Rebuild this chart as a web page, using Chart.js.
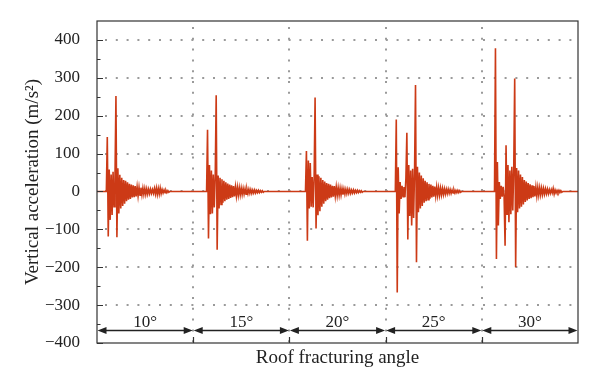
<!DOCTYPE html>
<html>
<head>
<meta charset="utf-8">
<script src="https://cdn.jsdelivr.net/npm/chart.js@4.4.1/dist/chart.umd.min.js"></script>
<style>
  html, body { margin: 0; padding: 0; background: #fff; }
  #wrap { width: 600px; height: 390px; }
</style>
</head>
<body>
<div id="wrap"><canvas id="accChart"></canvas></div>
<script>
// chart values

const segmentLabels = ["10°", "15°", "20°", "25°", "30°"];
const segmentBounds = [0, 10, 20, 30, 40, 50];
const yTicks = [-400, -300, -200, -100, 0, 100, 200, 300, 400];
const yMinorTicks = [-350, -250, -150, -50, 50, 150, 250, 350];

// where each burst begins inside its segment, and sample spacing
const burstStart = [1.07, 1.49, 1.77, 1.11, 1.42];
const sampleStep = 0.1;

// acceleration samples (m/s2) for each roof fracturing angle
const burst10 = [144, -119, 58, -75, 45, -62, 52, -40, 38, 252, -121, 61, -58, 44, -45, 36, -38, 30, -32, 28,
    -26, 24, -22, 20, -20, 18, -16, 16, -15, 14, -13, 12, -12, 11, -10, 10, -9, 9, -8, 8,
    -8, 7, -7, 6, -6, 6, -5, 5, -5, 8, -7, 9, -8, 8, -7, 9, -6, 5, -4, 4,
    -3, 3, -3, 2, -2];
const burst15 = [163, -124, 70, -60, 55, -58, 45, -42, 40, 254, -154, 42, -45, 36, -34, 32, -30, 28, -26, 24,
    -22, 21, -20, 18, -17, 16, -15, 14, -13, 12, -12, 11, -10, 10, -9, 9, -8, 8, -7, 7,
    -7, 6, -6, 6, -5, 5, -5, 4, -4, 4, -4, 3, -3, 3, -3, 2, -2, 2, -2];
const burst20 = [107, -130, 82, -45, 75, -40, 38, -42, 35, 248, -98, 45, -63, 40, -52, 36, -40, 30, -32, 26,
    -26, 22, -22, 20, -18, 18, -16, 15, -14, 14, -12, 12, -11, 10, -10, 9, -9, 8, -8, 7,
    -7, 6, -6, 6, -5, 5, -5, 4, -4, 4, -4, 3, -3, 3, -3, 2, -2, 2, -2];
const burst25 = [190, -267, 64, -58, 25, -20, 15, -14, 12, -15, 35, 155, -127, 70, -65, 55, -90, 60, -70, 50,
    281, -187, 65, -55, 50, -45, 42, -38, 35, -30, 28, -26, 24, -22, 20, -19, 18, -16, 15, -14,
    13, -12, 12, -11, 10, -10, 9, -9, 8, -8, 7, -7, 6, -6, 6, -5, 5, -5, 4, -4,
    4, -4, 3, -3, 3, -3, 2, -2];
const burst30 = [378, -178, 78, -90, 25, -20, 15, -14, 12, -15, -143, 122, -60, 70, -81, 55, -60, 65, -50, 60,
    298, -200, 62, -55, 55, -45, 45, -40, 38, -34, 30, -28, 26, -24, 22, -20, 19, -18, 16, -15,
    14, -13, 12, -12, 11, -10, 10, -9, 9, -8, 8, -7, 7, -6, 6, -6, 5, -5, 5, -4,
    8, -7, 4, -4, 3, -3, 3, -3, 2, -2];

const bursts = [burst10, burst15, burst20, burst25, burst30];

const serif = '"Liberation Serif", "Times New Roman", serif';
const ink = "#222";

function buildSignal() {
    const pts = [];
    bursts.forEach((vals, k) => {
        const x0 = segmentBounds[k];
        const t0 = x0 + burstStart[k];
        pts.push({ x: x0, y: 0 }, { x: t0 - sampleStep, y: 0 });
        vals.forEach((v, i) => pts.push({ x: t0 + i * sampleStep, y: v }));
        pts.push({ x: t0 + vals.length * sampleStep, y: 0 });
    });
    pts.push({ x: segmentBounds[segmentBounds.length - 1], y: 0 });
    return pts;
}

// dotted grid, frame, inward ticks and the angle arrows
const framePlugin = {
    id: "frame",
    beforeDatasetsDraw(chart) {
        const { ctx, chartArea: a, scales: { x, y } } = chart;
        ctx.save();
        ctx.strokeStyle = "#9a9a9a";
        ctx.lineWidth = 2;
        ctx.setLineDash([2, 8.8]);
        yTicks.forEach(v => {
            if (v === yTicks[0]) return;
            const py = Math.round(y.getPixelForValue(v));
            ctx.beginPath();
            ctx.moveTo(a.left + 8, py);
            ctx.lineTo(a.right, py);
            ctx.stroke();
        });
        segmentBounds.slice(1, -1).forEach(v => {
            const px = Math.round(x.getPixelForValue(v));
            ctx.beginPath();
            ctx.moveTo(px, a.top + 6);
            ctx.lineTo(px, a.bottom);
            ctx.stroke();
        });
        ctx.restore();
    },
    afterDatasetsDraw(chart) {
        const { ctx, chartArea: a, scales: { x, y } } = chart;
        ctx.save();
        ctx.strokeStyle = "#333";
        ctx.lineWidth = 1.2;
        ctx.strokeRect(a.left, a.top, a.right - a.left, a.bottom - a.top);

        // inward ticks on the left axis
        ctx.beginPath();
        yTicks.forEach(v => {
            const py = Math.round(y.getPixelForValue(v)) + 0.5;
            ctx.moveTo(a.left, py);
            ctx.lineTo(a.left + 6, py);
        });
        yMinorTicks.forEach(v => {
            const py = Math.round(y.getPixelForValue(v)) + 0.5;
            ctx.moveTo(a.left, py);
            ctx.lineTo(a.left + 3.5, py);
        });
        // ticks on the bottom at the segment edges
        segmentBounds.slice(1, -1).forEach(v => {
            const px = Math.round(x.getPixelForValue(v)) + 0.5;
            ctx.moveTo(px, a.bottom);
            ctx.lineTo(px, a.bottom - 6);
        });
        ctx.stroke();

        // double arrows with the angle labels
        const ay = Math.round(y.getPixelForValue(-365)) + 0.5;
        ctx.fillStyle = ink;
        ctx.strokeStyle = ink;
        ctx.lineWidth = 1.5;
        ctx.font = "17px " + serif;
        ctx.textAlign = "center";
        ctx.textBaseline = "alphabetic";
        segmentLabels.forEach((lab, k) => {
            const xa = x.getPixelForValue(segmentBounds[k]);
            const xb = x.getPixelForValue(segmentBounds[k + 1]);
            ctx.beginPath();
            ctx.moveTo(xa + 4, ay);
            ctx.lineTo(xb - 4, ay);
            ctx.stroke();
            ctx.beginPath();
            ctx.moveTo(xa + 0.5, ay);
            ctx.lineTo(xa + 9.5, ay - 3.5);
            ctx.lineTo(xa + 9.5, ay + 3.5);
            ctx.closePath();
            ctx.moveTo(xb - 0.5, ay);
            ctx.lineTo(xb - 9.5, ay - 3.5);
            ctx.lineTo(xb - 9.5, ay + 3.5);
            ctx.closePath();
            ctx.fill();
            ctx.fillText(lab, (xa + xb) / 2, ay - 4);
        });
        ctx.restore();
    }
};

const ctx = document.getElementById("accChart").getContext("2d");
new Chart(ctx, {
    type: "line",
    data: {
        datasets: [{
            data: buildSignal(),
            borderColor: "#cc3a16",
            borderWidth: 1.6,
            borderJoinStyle: "miter",
            pointRadius: 0,
            tension: 0,
            fill: false
        }]
    },
    options: {
        responsive: true,
        maintainAspectRatio: false,
        animation: false,
        events: [],
        layout: { padding: { left: 22, right: 22, top: 21, bottom: 21 } },
        plugins: { legend: { display: false }, tooltip: { enabled: false } },
        scales: {
            x: {
                type: "linear",
                min: 0,
                max: 50,
                grid: { display: false },
                border: { display: false },
                ticks: { display: false },
                title: {
                    display: true,
                    text: "Roof fracturing angle",
                    color: ink,
                    font: { family: serif, size: 19 },
                    padding: { top: 0, bottom: 0 }
                },
                afterFit(scale) { scale.height = 26; }
            },
            y: {
                min: -400,
                max: 450,
                grid: { display: false },
                border: { display: false },
                afterBuildTicks(scale) { scale.ticks = yTicks.map(v => ({ value: v })); },
                ticks: {
                    padding: 9,
                    color: ink,
                    font: { family: serif, size: 17 },
                    callback: v => (v < 0 ? "\u2212" + Math.abs(v) : String(v))
                },
                title: {
                    display: true,
                    text: "Vertical acceleration (m/s²)",
                    color: ink,
                    font: { family: serif, size: 19 },
                    padding: { top: 0, bottom: 0 }
                },
                afterFit(scale) { scale.width = 75; }
            }
        }
    },
    plugins: [framePlugin]
});
</script>
</body>
</html>
